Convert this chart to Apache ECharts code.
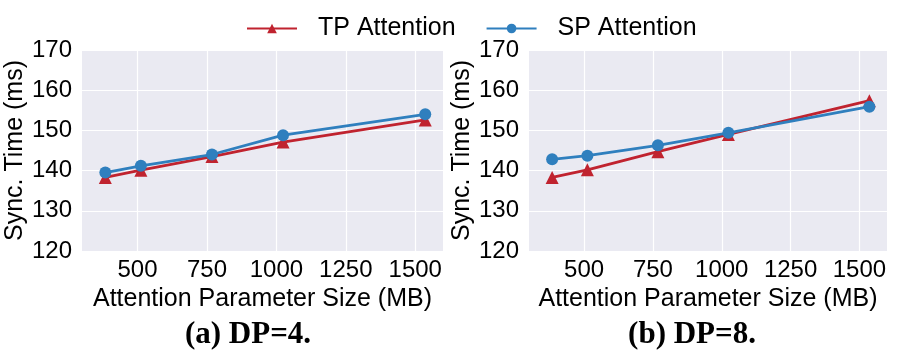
<!DOCTYPE html>
<html>
<head>
<meta charset="utf-8">
<script src="https://cdn.jsdelivr.net/npm/echarts@6/dist/echarts.min.js"></script>
<style>
html,body{margin:0;padding:0;background:#fff;}
#chart{width:897px;height:353px;}
</style>
</head>
<body>
<div id="chart"></div>
<script>
const xSizes = [384, 512, 768, 1024, 1536];
const tpDP4 = [138.3, 140.1, 143.5, 147.1, 152.6];
const spDP4 = [139.5, 141.2, 144.0, 148.8, 154.0];
const tpDP8 = [138.3, 140.2, 144.7, 149.0, 157.4];
const spDP8 = [142.8, 143.7, 146.3, 149.4, 155.9];
const xTickValues = [500, 750, 1000, 1250, 1500];
const seriesNames = ['TP Attention', 'SP Attention'];
const captions = ['(a) DP=4.', '(b) DP=8.'];
const xTitle = 'Attention Parameter Size (MB)';
const yTitle = 'Sync. Time (ms)';

const RED = '#c0232f';
const BLUE = '#2f7fbe';
const FONT = 'Liberation Sans, Arial, sans-serif';

const chart = echarts.init(document.getElementById('chart'));

function pairs(xs, ys){ return xs.map((x,i)=>[x, ys[i]]); }

const grids = [
  {left: 82, top: 50, width: 361, height: 201},
  {left: 529, top: 50, width: 358, height: 201}
];

function xAxisFor(i){
  return {
    type: 'value', gridIndex: i, min: 300, max: 1600,
    name: xTitle, nameLocation: 'middle', nameGap: 30,
    nameTextStyle: {fontFamily: FONT, fontSize: 25, color: '#000'},
    axisLine: {show: false}, axisTick: {show: false, customValues: xTickValues},
    axisLabel: {customValues: xTickValues, formatter: v => String(v), fontFamily: FONT, fontSize: 24, color: '#000', margin: 7},
    splitLine: {show: true, lineStyle: {color: '#fff', width: 1.2}}
  };
}
function yAxisFor(i){
  return {
    type: 'value', gridIndex: i, min: 120, max: 170, interval: 10,
    name: yTitle, nameLocation: 'middle', nameGap: 53, nameRotate: 90,
    nameTextStyle: {fontFamily: FONT, fontSize: 25, color: '#000'},
    axisLine: {show: false}, axisTick: {show: false},
    axisLabel: {formatter: v => String(v), fontFamily: FONT, fontSize: 24, color: '#000', margin: 10},
    splitLine: {show: true, lineStyle: {color: '#fff', width: 1.2}}
  };
}
function lineSeries(name, data, idx, color, symbol, size){
  return {
    name: name, type: 'line', xAxisIndex: idx, yAxisIndex: idx,
    data: data, symbol: symbol, symbolSize: size, showSymbol: true,
    lineStyle: {color: color, width: 2.8}, itemStyle: {color: color},
    z: symbol === 'circle' ? 3 : 2, animation: false
  };
}

chart.setOption({
  animation: false,
  backgroundColor: '#fff',
  grid: grids.map(g => Object.assign({show: true, backgroundColor: '#eaeaf2', borderWidth: 0}, g)),
  xAxis: [xAxisFor(0), xAxisFor(1)],
  yAxis: [yAxisFor(0), yAxisFor(1)],
  legend: {
    top: 11, left: 241,
    data: seriesNames,
    itemWidth: 50, itemHeight: 12, itemGap: 30,
    textStyle: {fontFamily: FONT, fontSize: 25, color: '#000', padding: [0,0,0,16]}
  },
  series: [
    lineSeries(seriesNames[0], pairs(xSizes, tpDP4), 0, RED, 'triangle', 13),
    lineSeries(seriesNames[1], pairs(xSizes, spDP4), 0, BLUE, 'circle', 12),
    lineSeries(seriesNames[0], pairs(xSizes, tpDP8), 1, RED, 'triangle', 13),
    lineSeries(seriesNames[1], pairs(xSizes, spDP8), 1, BLUE, 'circle', 12)
  ],
  graphic: [
    {type: 'text', x: 248, y: 335, style: {text: captions[0], fontFamily: 'Liberation Serif, Times New Roman, serif', fontWeight: 'bold', fontSize: 31, fill: '#000', align: 'center', verticalAlign: 'middle'}},
    {type: 'text', x: 692, y: 335, style: {text: captions[1], fontFamily: 'Liberation Serif, Times New Roman, serif', fontWeight: 'bold', fontSize: 31, fill: '#000', align: 'center', verticalAlign: 'middle'}}
  ]
});
</script>
</body>
</html>
